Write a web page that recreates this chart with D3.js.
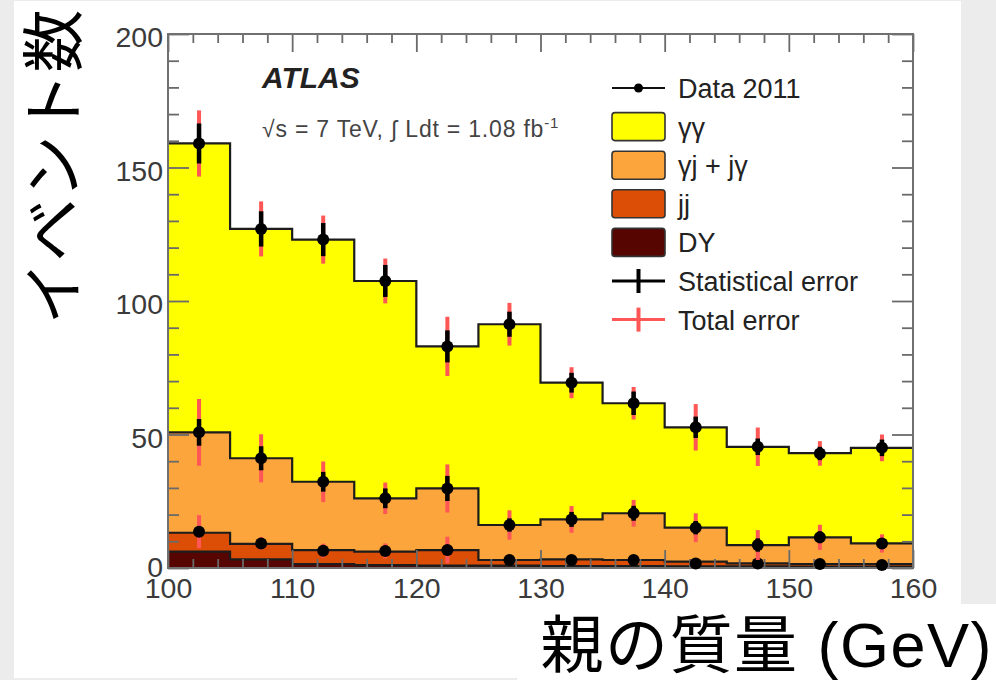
<!DOCTYPE html>
<html><head><meta charset="utf-8">
<script src="https://cdn.jsdelivr.net/npm/d3@7"></script>
<style>body{margin:0;background:#ececec;} svg{display:block}</style>
</head><body><svg id="c" width="996" height="680"></svg>
<script>
// ---------- data ----------
const binEdges   = [100,105,110,115,120,125,130,135,140,145,150,155,160];
const binCenters = [102.5,107.5,112.5,117.5,122.5,127.5,132.5,137.5,142.5,147.5,152.5,157.5];
const seriesKeys = ["DY","jj","gj","gg"];
const gammaGamma = [108.2,85.9,90.7,81.4,53.2,75.2,51.2,41.2,37.6,36.8,31.5,35.8];
const gammaJet   = [37.6,32.1,25.6,20.0,23.1,13.1,15.0,17.5,12.7,6.9,10.0,7.7];
const jetJet     = [7.1,5.8,5.2,5.0,5.8,2.1,2.5,2.3,1.8,1.1,1.0,1.0];
const drellYan   = [6.1,3.2,1.5,1.1,0.9,0.9,0.7,0.7,0.6,0.6,0.5,0.5];

// data points (three extraction levels): value, statistical error, total error
const dataAll     = [159,127,123,107.5,83,91.3,69.4,61.7,52.7,45.4,42.9,45];
const statAll     = [7.5,6.6,6.2,6,6,4.7,3.7,4.4,4,3.1,2.5,3.1];
const totAll      = [12.4,10.3,9,8.4,11.1,8,5.8,6.1,8.7,7.2,4.6,5];
const dataGJ      = [50.8,41.1,32.3,26.1,29.8,16.1,18.2,20.5,15.1,8.6,11.5,9.2];
const statGJ      = [5,4.5,3.7,3.7,4.7,2.5,2.8,2.8,2.5,2.5,2.2,2];
const totGJ       = [12.5,9,7.6,5.9,9,5.5,5,5,5.4,5.6,4.7,3.4];
const dataJJ      = [13.6,9.2,6.5,6.4,6.7,3,3,3,1.7,1.7,1.5,1.1];
const statJJ      = [2,1.5,1.4,1.4,1.9,1,0.9,0.9,0.8,0.8,0.7,0.6];
const totJJ       = [6.2,2.4,2.6,2.8,5,1.9,1.8,1.8,1.6,1.5,1.2,1.0];

const xMajorTicks = [100,110,120,130,140,150,160];
const yMajorTicks = [0,50,100,150,200];
const legendLabels = ["Data 2011","γγ","γj + jγ","jj","DY","Statistical error","Total error"];
const xLabel = "親の質量 (GeV)";
const yLabel = "イベント数";
const titleText = "ATLAS";

// ---------- layout ----------
const svg = d3.select("#c");
const L = 168, R = 913, T = 34, B = 568;
const x = d3.scaleLinear().domain([100,160]).range([L,R]);
const y = d3.scaleLinear().domain([0,200]).range([B,T]);
const colors = {gg:"#ffff00", gj:"#fca53c", jj:"#dc4e05", DY:"#560500"};
const redErr = "#ff5656";
const latin = "'Liberation Sans', Arial, Helvetica, sans-serif";

// white panels
svg.append("rect").attr("x",14).attr("y",1).attr("width",947).attr("height",677).attr("fill","#fff");
svg.append("rect").attr("x",517).attr("y",604).attr("width",479).attr("height",76).attr("fill","#fff");

// ---------- stack ----------
const table = binCenters.map((c,i)=>({gg:gammaGamma[i], gj:gammaJet[i], jj:jetJet[i], DY:drellYan[i]}));
const stacked = d3.stack().keys(seriesKeys)(table);
const stepPts = s => {
  const p = s.map((d,i)=>({x:binEdges[i], y0:d[0], y1:d[1]}));
  const last = s[s.length-1];
  p.push({x:binEdges[binEdges.length-1], y0:last[0], y1:last[1]});
  return p;
};
const area = d3.area().x(d=>x(d.x)).y0(d=>y(d.y0)).y1(d=>y(d.y1)).curve(d3.curveStepAfter);
const topLine = d3.line().x(d=>x(d.x)).y(d=>y(d.y1)).curve(d3.curveStepAfter);
stacked.forEach(s=>{
  svg.append("path").attr("d",area(stepPts(s))).attr("fill",colors[s.key]);
});
stacked.forEach(s=>{
  svg.append("path").attr("d",topLine(stepPts(s))).attr("fill","none")
    .attr("stroke","#1c1c1c").attr("stroke-width",2.2);
});

// ---------- axes ----------
const tickCol = "#6a6a6a";
function styleAxis(g){
  g.select(".domain").remove();
  g.selectAll(".tick line").attr("stroke",tickCol).attr("stroke-width",1.8);
  g.selectAll("text").attr("font-family",latin).attr("font-size",28.5).attr("fill","#3a3a3a");
}
const xMinor = d3.range(100,161,2).filter(v=>v%10!==0);
const yMinor = d3.range(0,201,10).filter(v=>v%50!==0);
svg.append("g").attr("transform",`translate(0,${B})`)
  .call(d3.axisBottom(x).tickValues(xMajorTicks).tickSize(-18).tickPadding(10).tickFormat(d3.format("d"))).call(styleAxis);
svg.append("g").attr("transform",`translate(0,${B})`)
  .call(d3.axisBottom(x).tickValues(xMinor).tickSize(-9).tickFormat("")).call(styleAxis);
svg.append("g").attr("transform",`translate(0,${T})`)
  .call(d3.axisTop(x).tickValues(xMajorTicks).tickSize(-18).tickFormat("")).call(styleAxis);
svg.append("g").attr("transform",`translate(0,${T})`)
  .call(d3.axisTop(x).tickValues(xMinor).tickSize(-9).tickFormat("")).call(styleAxis);
const yax = svg.append("g").attr("transform",`translate(${L},0)`)
  .call(d3.axisLeft(y).tickValues(yMajorTicks).tickSize(-21).tickPadding(5).tickFormat(d3.format("d"))).call(styleAxis);
yax.selectAll("text").attr("dy",d=> d===0 ? "0.3em" : "0.45em");
svg.append("g").attr("transform",`translate(${L},0)`)
  .call(d3.axisLeft(y).tickValues(yMinor).tickSize(-11).tickFormat("")).call(styleAxis);
svg.append("g").attr("transform",`translate(${R},0)`)
  .call(d3.axisRight(y).tickValues(yMajorTicks).tickSize(-21).tickFormat("")).call(styleAxis);
svg.append("g").attr("transform",`translate(${R},0)`)
  .call(d3.axisRight(y).tickValues(yMinor).tickSize(-11).tickFormat("")).call(styleAxis);
svg.append("rect").attr("x",L).attr("y",T).attr("width",R-L).attr("height",B-T)
  .attr("fill","none").attr("stroke","#707070").attr("stroke-width",2);

// ---------- error bars / points ----------
function drawPoints(vals, stat, tot){
  const g = svg.append("g");
  binCenters.forEach((c,i)=>{
    g.append("line").attr("x1",x(c)).attr("x2",x(c)).attr("y1",y(vals[i]-tot[i])).attr("y2",y(vals[i]+tot[i]))
      .attr("stroke",redErr).attr("stroke-width",4);
  });
  binCenters.forEach((c,i)=>{
    g.append("line").attr("x1",x(c)).attr("x2",x(c)).attr("y1",y(vals[i]-stat[i])).attr("y2",y(vals[i]+stat[i]))
      .attr("stroke","#000").attr("stroke-width",4.5);
    g.append("circle").attr("cx",x(c)).attr("cy",y(vals[i])).attr("r",6).attr("fill","#000");
  });
}
drawPoints(dataJJ, statJJ, totJJ);
drawPoints(dataGJ, statGJ, totGJ);
drawPoints(dataAll, statAll, totAll);

// ---------- texts ----------
svg.append("text").attr("x",262).attr("y",88).text(titleText)
  .attr("font-family",latin).attr("font-size",30)
  .attr("font-weight","bold").attr("font-style","italic").attr("fill","#222");
const energy = svg.append("text").attr("x",262).attr("y",137)
  .attr("font-family",latin).attr("font-size",23).attr("letter-spacing",0.8).attr("fill","#444");
energy.append("tspan").text("√s = 7 TeV, ∫ Ldt = 1.08 fb");
energy.append("tspan").attr("dy",-9).attr("font-size",15).text("-1");

// legend
const lgX0 = 612, lgX1 = 665, lgTx = 678;
const rowY = i => 88 + i*38.6;
const lg = svg.append("g");
const fillKeys = ["gg","gj","jj","DY"];
legendLabels.forEach((lab,i)=>{
  const cy = rowY(i);
  if(i===0){
    lg.append("line").attr("x1",lgX0).attr("x2",lgX1).attr("y1",cy).attr("y2",cy).attr("stroke","#111").attr("stroke-width",2);
    lg.append("circle").attr("cx",(lgX0+lgX1)/2).attr("cy",cy).attr("r",4.5).attr("fill","#000");
  } else if(i<=4){
    lg.append("rect").attr("x",lgX0).attr("y",cy-14).attr("width",lgX1-lgX0).attr("height",28)
      .attr("rx",3).attr("fill",colors[fillKeys[i-1]]).attr("stroke","#333").attr("stroke-width",1.6);
  } else {
    const col = i===5 ? "#000" : redErr;
    lg.append("line").attr("x1",lgX0).attr("x2",lgX1).attr("y1",cy).attr("y2",cy).attr("stroke",col).attr("stroke-width",3);
    lg.append("line").attr("x1",(lgX0+lgX1)/2).attr("x2",(lgX0+lgX1)/2).attr("y1",cy-12).attr("y2",cy+12).attr("stroke",col).attr("stroke-width",4);
  }
  lg.append("text").attr("x",lgTx).attr("y",cy+10).text(lab)
    .attr("font-family",latin).attr("font-size",27).attr("fill","#222");
});

// axis titles
svg.append("text").attr("x",993).attr("y",667).attr("text-anchor","end").text(xLabel)
  .attr("font-family","'Liberation Sans', 'Noto Sans CJK JP', sans-serif").attr("font-size",63)
  .attr("letter-spacing",1.5).attr("fill","#000");
svg.append("text").attr("transform","translate(76,167) rotate(-90)").attr("text-anchor","middle").text(yLabel)
  .attr("font-family","'Noto Sans CJK JP', sans-serif").attr("font-size",63).attr("fill","#000");
</script>
</body></html>
